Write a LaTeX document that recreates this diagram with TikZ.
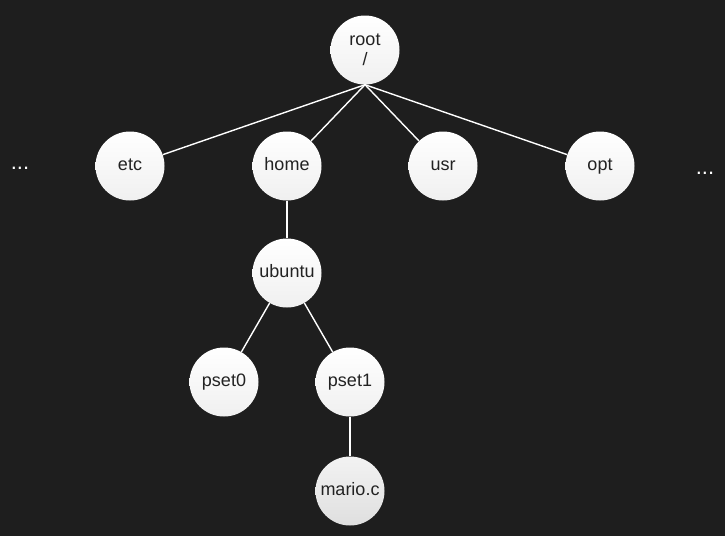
\documentclass[tikz,border=0pt]{standalone}
\usepackage{fontspec}
\setmainfont{Liberation Sans}
\definecolor{bg}{HTML}{1E1E1E}
\definecolor{txt}{HTML}{222222}
\newcommand{\lbl}[1]{\vphantom{Ap}#1}
\begin{document}
\begin{tikzpicture}[x=1pt,y=-1pt,
  dirnode/.style={circle, minimum size=69pt, inner sep=0pt, top color=white, bottom color=gray!12, draw=none, text=txt, font=\fontsize{18}{19}\selectfont, align=center},
  filenode/.style={dirnode, top color=gray!10, bottom color=gray!25},
  edge/.style={draw=white, line width=1.4pt},
  dots/.style={text=white, font=\fontsize{22}{22}\selectfont}]
\fill[bg] (0,0) rectangle (725,536);
\useasboundingbox (0,0) rectangle (725,536);
\node[dirnode] (root) at (365,50) {root\\[1pt]/};
\node[dirnode] (etc) at (130,166) {\lbl{etc}};
\node[dirnode] (home) at (287,166) {\lbl{home}};
\node[dirnode] (usr) at (443,166) {\lbl{usr}};
\node[dirnode] (opt) at (600,166) {\lbl{opt}};
\node[dirnode] (ubuntu) at (287,273) {\lbl{ubuntu}};
\node[dirnode] (pset0) at (224,382) {\lbl{pset0}};
\node[dirnode] (pset1) at (350,382) {\lbl{pset1}};
\node[filenode] (mario) at (350,491) {\lbl{mario.c}};
\node[dots] (ldots) at (20,168) {...};
\node[dots] (rdots) at (705,173) {...};
\foreach \c in {etc,home,usr,opt} \draw[edge] (root.south) -- (\c);
\draw[edge] (home) -- (ubuntu);
\draw[edge] (ubuntu) -- (pset0);
\draw[edge] (ubuntu) -- (pset1);
\draw[edge] (pset1) -- (mario);
\end{tikzpicture}
\end{document}
